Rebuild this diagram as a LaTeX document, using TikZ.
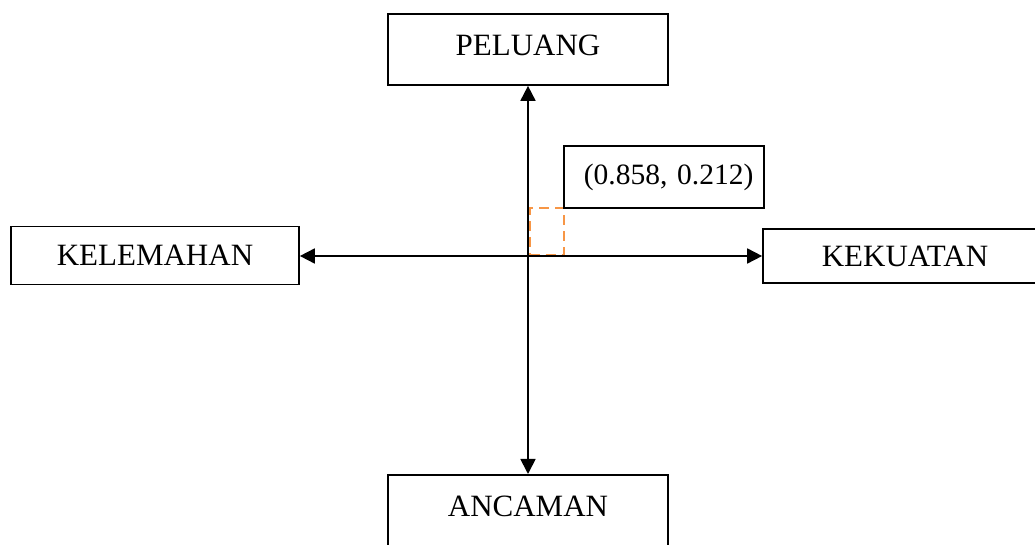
\documentclass[tikz,border=0pt]{standalone}
\usepackage{fontspec}
\setmainfont{Liberation Serif}
\usetikzlibrary{arrows.meta}
\definecolor{dashorange}{HTML}{F79646}
\tikzset{
  box/.style={draw=black, line width=0.85pt, inner sep=0pt, font=\fontsize{15.5}{18}\selectfont},
  axis/.style={line width=0.9pt, {Triangle[length=7.5pt,width=7.5pt]}-{Triangle[length=7.5pt,width=7.5pt]}},
  marker/.style={draw=dashorange, line width=1.1pt, dash pattern=on 5pt off 3pt, inner sep=0pt, minimum width=17pt, minimum height=23.5pt}
}
\begin{document}
\begin{tikzpicture}[x=0.5pt,y=-0.5pt]
\useasboundingbox (0,0) rectangle (1035,545);
\clip (0,0) rectangle (1035,545);
\node[box, minimum width=140pt, minimum height=35.5pt] (peluang) at (528,49.5) {\raisebox{4pt}{PELUANG}};
\node[box, anchor=north, minimum width=140pt, minimum height=40pt] (ancaman) at (528,474) {\raisebox{8.5pt}{ANCAMAN}};
\node[box, minimum width=144pt, minimum height=29pt] (kelemahan) at (155,255.5) {KELEMAHAN};
\node[box, minimum width=142pt, minimum height=27pt] (kekuatan) at (905,256) {\raisebox{-0.8pt}{KEKUATAN}};
\coordinate (c) at (528.5,256);
\node[marker, anchor=south west] (mark) at (c) {};
\node[box, anchor=south west, text width=80pt, inner xsep=10pt, minimum height=31pt, align=left, font=\fontsize{14.75}{17}\selectfont] (label) at (563,209) {\raisebox{1.5pt}{(0.858, 0.212)}};
\draw[axis] (peluang.south) -- (ancaman.north);
\draw[axis] (kelemahan.east |- c) -- (kekuatan.west |- c);
\end{tikzpicture}
\end{document}
